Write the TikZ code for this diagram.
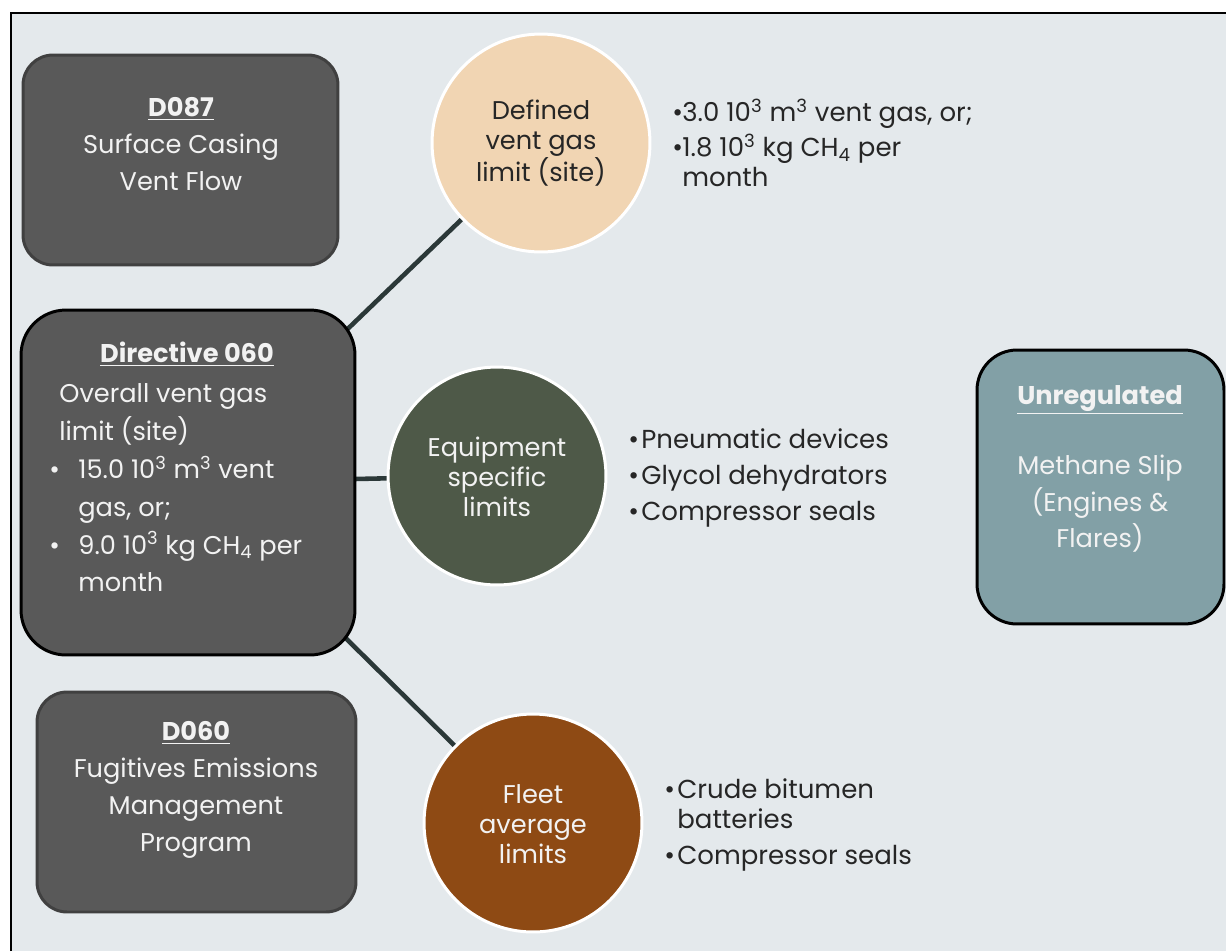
\documentclass[tikz,border=0pt]{standalone}
\usepackage{fontspec}
\setmainfont{Poppins}
\usepackage{xcolor}
\usetikzlibrary{backgrounds}
\definecolor{kbg}{HTML}{E4E9EC}
\definecolor{kbox}{HTML}{595959}
\definecolor{kedge}{HTML}{404040}
\definecolor{kpeach}{HTML}{F1D5B3}
\definecolor{kolive}{HTML}{4E5948}
\definecolor{kbrown}{HTML}{8E4A14}
\definecolor{kteal}{HTML}{82A0A6}
\definecolor{klink}{HTML}{2B3838}
\definecolor{ki}{HTML}{262626}
\definecolor{kw}{HTML}{F2F2F2}
\newcommand\kboxfont{\fontsize{14.6}{21}\selectfont}
\newcommand\kcircfont{\fontsize{14.6}{17}\selectfont}
\newcommand\klistfont{\fontsize{14.8}{17}\selectfont}
\newcommand\kbul[1]{\makebox[#1][l]{\textbullet}}

\begin{document}
\begin{tikzpicture}[x=0.02cm,y=-0.02cm,
  regbox/.style={rectangle,rounded corners=0.6cm,fill=kbox,draw=kedge,line width=1.7pt,inner sep=0pt},
  limcirc/.style={circle,draw=white,line width=1.7pt,minimum size=4.36cm,inner sep=0pt},
  link/.style={klink,line width=2.6pt},
  boxtxt/.style={text=kw,align=center,inner sep=0pt,font=\kboxfont},
  circtxt/.style={align=center,inner sep=0pt,font=\kcircfont},
  listtxt/.style={text=ki,align=left,anchor=west,inner sep=0pt,font=\klistfont}]
  \useasboundingbox (0,0) rectangle (1226,951);

  % Page (slide background and frame)
  \begin{scope}[on background layer]
    \fill[white] (0,0) rectangle (1226,951);
    \fill[kbg] (11,13) rectangle (1226,951);
    \draw[black,line width=1.2pt] (11,951) -- (11,13) -- (1226,13);
  \end{scope}

  % Regulation boxes
  \node[regbox,minimum width=6.3cm,minimum height=4.2cm] (d087) at (180.5,160) {};
  \node[regbox,draw=black,rounded corners=0.9cm,minimum width=6.68cm,minimum height=6.9cm] (dir) at (188,482.5) {};
  \node[regbox,minimum width=6.38cm,minimum height=4.4cm] (d060) at (196.5,802) {};
  \node[regbox,fill=kteal,draw=black,rounded corners=0.8cm,minimum width=4.94cm,minimum height=5.48cm] (unreg) at (1100.5,487) {};

  % Limit circles
  \node[limcirc,fill=kpeach] (site) at (541,143) {};
  \node[limcirc,fill=kolive] (equip) at (497,476) {};
  \node[limcirc,fill=kbrown] (fleet) at (533,823) {};

  % Links from Directive 060 (behind the shapes)
  \begin{scope}[on background layer]
    \draw[link] (dir.center) -- (site.center);
    \draw[link] (dir.center) -- (equip.center);
    \draw[link] (dir.center) -- (fleet.center);
  \end{scope}

  % Box texts
  \node[boxtxt] (d087txt) at (181,144) {\underline{\textbf{D087}}\\Surface Casing\\Vent Flow};
  \node[boxtxt] (dirhead) at (187,354) {\underline{\textbf{Directive 060}}};
  \node[boxtxt,align=left,anchor=west,font=\fontsize{14.6}{21.5}\selectfont] (dirtxt) at (59,488)
    {Overall vent gas\\limit (site)\\
     \hspace*{-0.2cm}\kbul{0.58cm}15.0 10\textsuperscript{3} m\textsuperscript{3} vent\\
     \hspace*{0.38cm}gas, or;\\
     \hspace*{-0.2cm}\kbul{0.58cm}9.0 10\textsuperscript{3} kg CH\textsubscript{4} per\\
     \hspace*{0.38cm}month};
  \node[boxtxt] (d060txt) at (196,790) {\underline{\textbf{D060}}\\Fugitives Emissions\\Management\\Program};
  \node[boxtxt] (unregtxt) at (1100,469) {\underline{\textbf{Unregulated}}\\[0.66cm]Methane Slip\\(Engines \&\\Flares)};

  % Circle texts
  \node[circtxt,text=ki] (sitetxt) at (541,143) {Defined\\vent gas\\limit (site)};
  \node[circtxt,text=kw] (equiptxt) at (497,477) {Equipment\\specific\\limits};
  \node[circtxt,text=kw] (fleettxt) at (533,824) {Fleet\\average\\limits};

  % Lists beside the circles
  \node[listtxt] (sitelist) at (672,143)
    {\kbul{0.2cm}3.0 10\textsuperscript{3} m\textsuperscript{3} vent gas, or;\\[0.1cm]
     \kbul{0.2cm}1.8 10\textsuperscript{3} kg CH\textsubscript{4} per\\
     \hspace*{0.2cm}month};
  \node[listtxt] (equiplist) at (628,478)
    {\kbul{0.26cm}Pneumatic devices\\[0.12cm]
     \kbul{0.26cm}Glycol dehydrators\\[0.12cm]
     \kbul{0.26cm}Compressor seals};
  \node[listtxt] (fleetlist) at (664,825)
    {\kbul{0.26cm}Crude bitumen\\
     \hspace*{0.26cm}batteries\\[0.12cm]
     \kbul{0.26cm}Compressor seals};
\end{tikzpicture}
\end{document}
